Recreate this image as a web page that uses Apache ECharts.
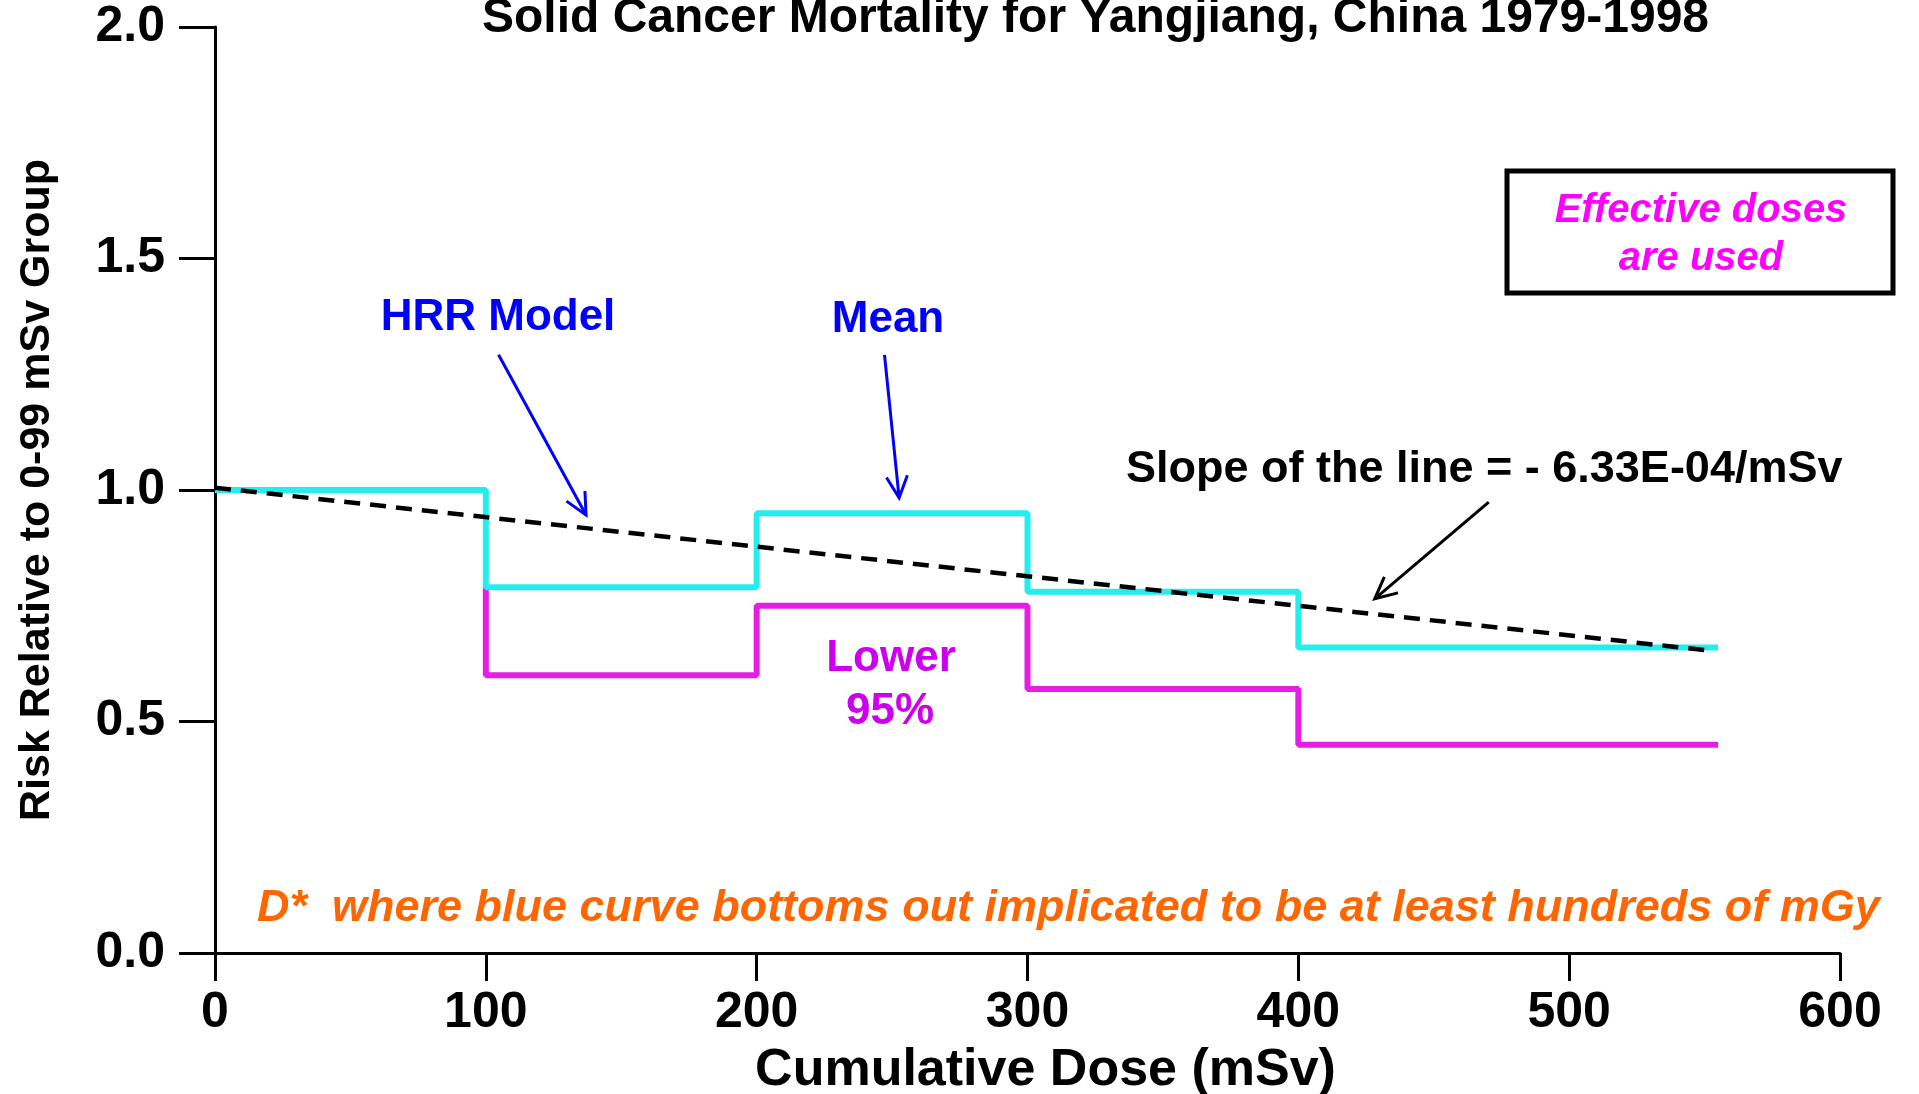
<!DOCTYPE html>
<html>
<head>
<meta charset="utf-8">
<script src="https://cdn.jsdelivr.net/npm/echarts@6/dist/echarts.min.js"></script>
<style>
html,body{margin:0;padding:0;background:#fff;}
#chart{width:1919px;height:1094px;}
</style>
</head>
<body>
<div id="chart"></div>
<script>
// ---- data ----
const meanDose = [0, 100, 200, 300, 400, 555];
const meanRisk = [1.00, 0.79, 0.95, 0.78, 0.66, 0.66];
const lowerDose = [100, 100, 200, 300, 400, 555];
const lowerRisk = [0.79, 0.60, 0.75, 0.57, 0.45, 0.45];
const trendDose = [0, 552];
const trendRisk = [1.005, 0.653];
const xTicks = [0, 100, 200, 300, 400, 500, 600];
const yTicks = [0.0, 0.5, 1.0, 1.5, 2.0];
// annotation arrows [from, to] in data units
const arrowHRR = [[104.7, 1.292], [137.0, 0.946]];
const arrowMean = [[247.2, 1.292], [252.6, 0.983]];
const arrowSlope = [[470.3, 0.974], [428.2, 0.765]];

const FONT = '"Liberation Sans", Arial, Helvetica, sans-serif';
const zip = (a, b) => a.map((v, i) => [v, b[i]]);

const chart = echarts.init(document.getElementById('chart'), null, {renderer: 'canvas'});

const option = {
  animation: false,
  backgroundColor: '#ffffff',
  title: {
    text: 'Solid Cancer Mortality for Yangjiang, China 1979-1998',
    left: 477, top: -10,
    textStyle: {fontFamily: FONT, fontWeight: 'bold', fontSize: 48, color: '#000'}
  },
  grid: {left: 215, right: 79, top: 27, bottom: 141, containLabel: false, outerBoundsMode: 'none'},
  xAxis: {
    type: 'value', min: xTicks[0], max: xTicks[xTicks.length - 1], interval: 100,
    name: 'Cumulative Dose (mSv)', nameLocation: 'middle', nameGap: 92,
    nameTextStyle: {fontFamily: FONT, fontWeight: 'bold', fontSize: 52, color: '#000', padding: [0, 0, 0, 36]},
    axisLine: {show: true, onZero: false, lineStyle: {color: '#000', width: 3}},
    axisTick: {show: true, length: 28, lineStyle: {color: '#000', width: 3}},
    axisLabel: {margin: 35, fontFamily: FONT, fontWeight: 'bold', fontSize: 50, color: '#000'},
    splitLine: {show: false}
  },
  yAxis: {
    type: 'value', min: yTicks[0], max: yTicks[yTicks.length - 1], interval: 0.5,
    name: 'Risk Relative to 0-99 mSv Group', nameLocation: 'middle', nameGap: 156,
    nameTextStyle: {fontFamily: FONT, fontWeight: 'bold', fontSize: 43, color: '#000'},
    axisLine: {show: true, lineStyle: {color: '#000', width: 3}},
    axisTick: {show: true, length: 36, lineStyle: {color: '#000', width: 3}},
    axisLabel: {margin: 50, fontFamily: FONT, fontWeight: 'bold', fontSize: 50, color: '#000',
      formatter: v => v.toFixed(1)},
    splitLine: {show: false}
  },
  series: [
    {
      name: 'Lower 95%', type: 'line', step: 'end', showSymbol: false, z: 2,
      data: zip(lowerDose, lowerRisk),
      lineStyle: {color: '#E41EE4', width: 6}
    },
    {
      name: 'Mean', type: 'line', step: 'end', showSymbol: false, z: 3,
      data: zip(meanDose, meanRisk),
      lineStyle: {color: '#22EEEE', width: 6}
    },
    {
      name: 'Slope', type: 'line', showSymbol: false, z: 4,
      data: zip(trendDose, trendRisk),
      lineStyle: {color: '#000', width: 4.5, type: [16, 10]}
    }
  ]
};
chart.setOption(option);

function arrowEls(arr, color) {
  const p0 = chart.convertToPixel({gridIndex: 0}, arr[0]);
  const p1 = chart.convertToPixel({gridIndex: 0}, arr[1]);
  const dx = p1[0] - p0[0], dy = p1[1] - p0[1];
  const len = Math.hypot(dx, dy);
  const ux = dx / len, uy = dy / len;
  const L = 24, th = 26 * Math.PI / 180;
  const c = Math.cos(th), s = Math.sin(th);
  const a1 = [p1[0] - L * (ux * c - uy * s), p1[1] - L * (uy * c + ux * s)];
  const a2 = [p1[0] - L * (ux * c + uy * s), p1[1] - L * (uy * c - ux * s)];
  return [
    {type: 'polyline', z: 10, shape: {points: [p0, p1]}, style: {stroke: color, lineWidth: 3, fill: null}},
    {type: 'polyline', z: 10, shape: {points: [a1, p1, a2]}, style: {stroke: color, lineWidth: 3, fill: null}}
  ];
}

function txt(text, x, y, size, color, opts) {
  opts = opts || {};
  return {
    type: 'text', x: x, y: y, z: 20,
    style: {
      text: text, fill: color,
      font: (opts.italic ? 'italic ' : '') + 'bold ' + size + 'px ' + FONT,
      align: opts.align || 'center', verticalAlign: 'middle'
    }
  };
}

const graphics = [].concat(
  arrowEls(arrowHRR, '#0000FF'),
  arrowEls(arrowMean, '#0000FF'),
  arrowEls(arrowSlope, '#000000'),
  [
    txt('HRR Model', 498, 318, 44, '#0000FF'),
    txt('Mean', 888, 320, 44, '#0000FF'),
    txt('Slope of the line = - 6.33E-04/mSv', 1126, 470, 45, '#000000', {align: 'left'}),
    txt('Lower', 891, 659, 44, '#CC00EE'),
    txt('95%', 890, 712, 44, '#CC00EE'),
    {type: 'rect', z: 15, shape: {x: 1507, y: 171, width: 386, height: 122},
      style: {fill: '#fff', stroke: '#000', lineWidth: 5}},
    txt('Effective doses', 1701, 211, 40, '#FF00FF', {italic: true}),
    txt('are used', 1701, 259, 40, '#FF00FF', {italic: true}),
    txt('D*  where blue curve bottoms out implicated to be at least hundreds of mGy', 257, 909, 45, '#FF6600', {italic: true, align: 'left'})
  ]
);
chart.setOption({graphic: graphics});
</script>
</body>
</html>
